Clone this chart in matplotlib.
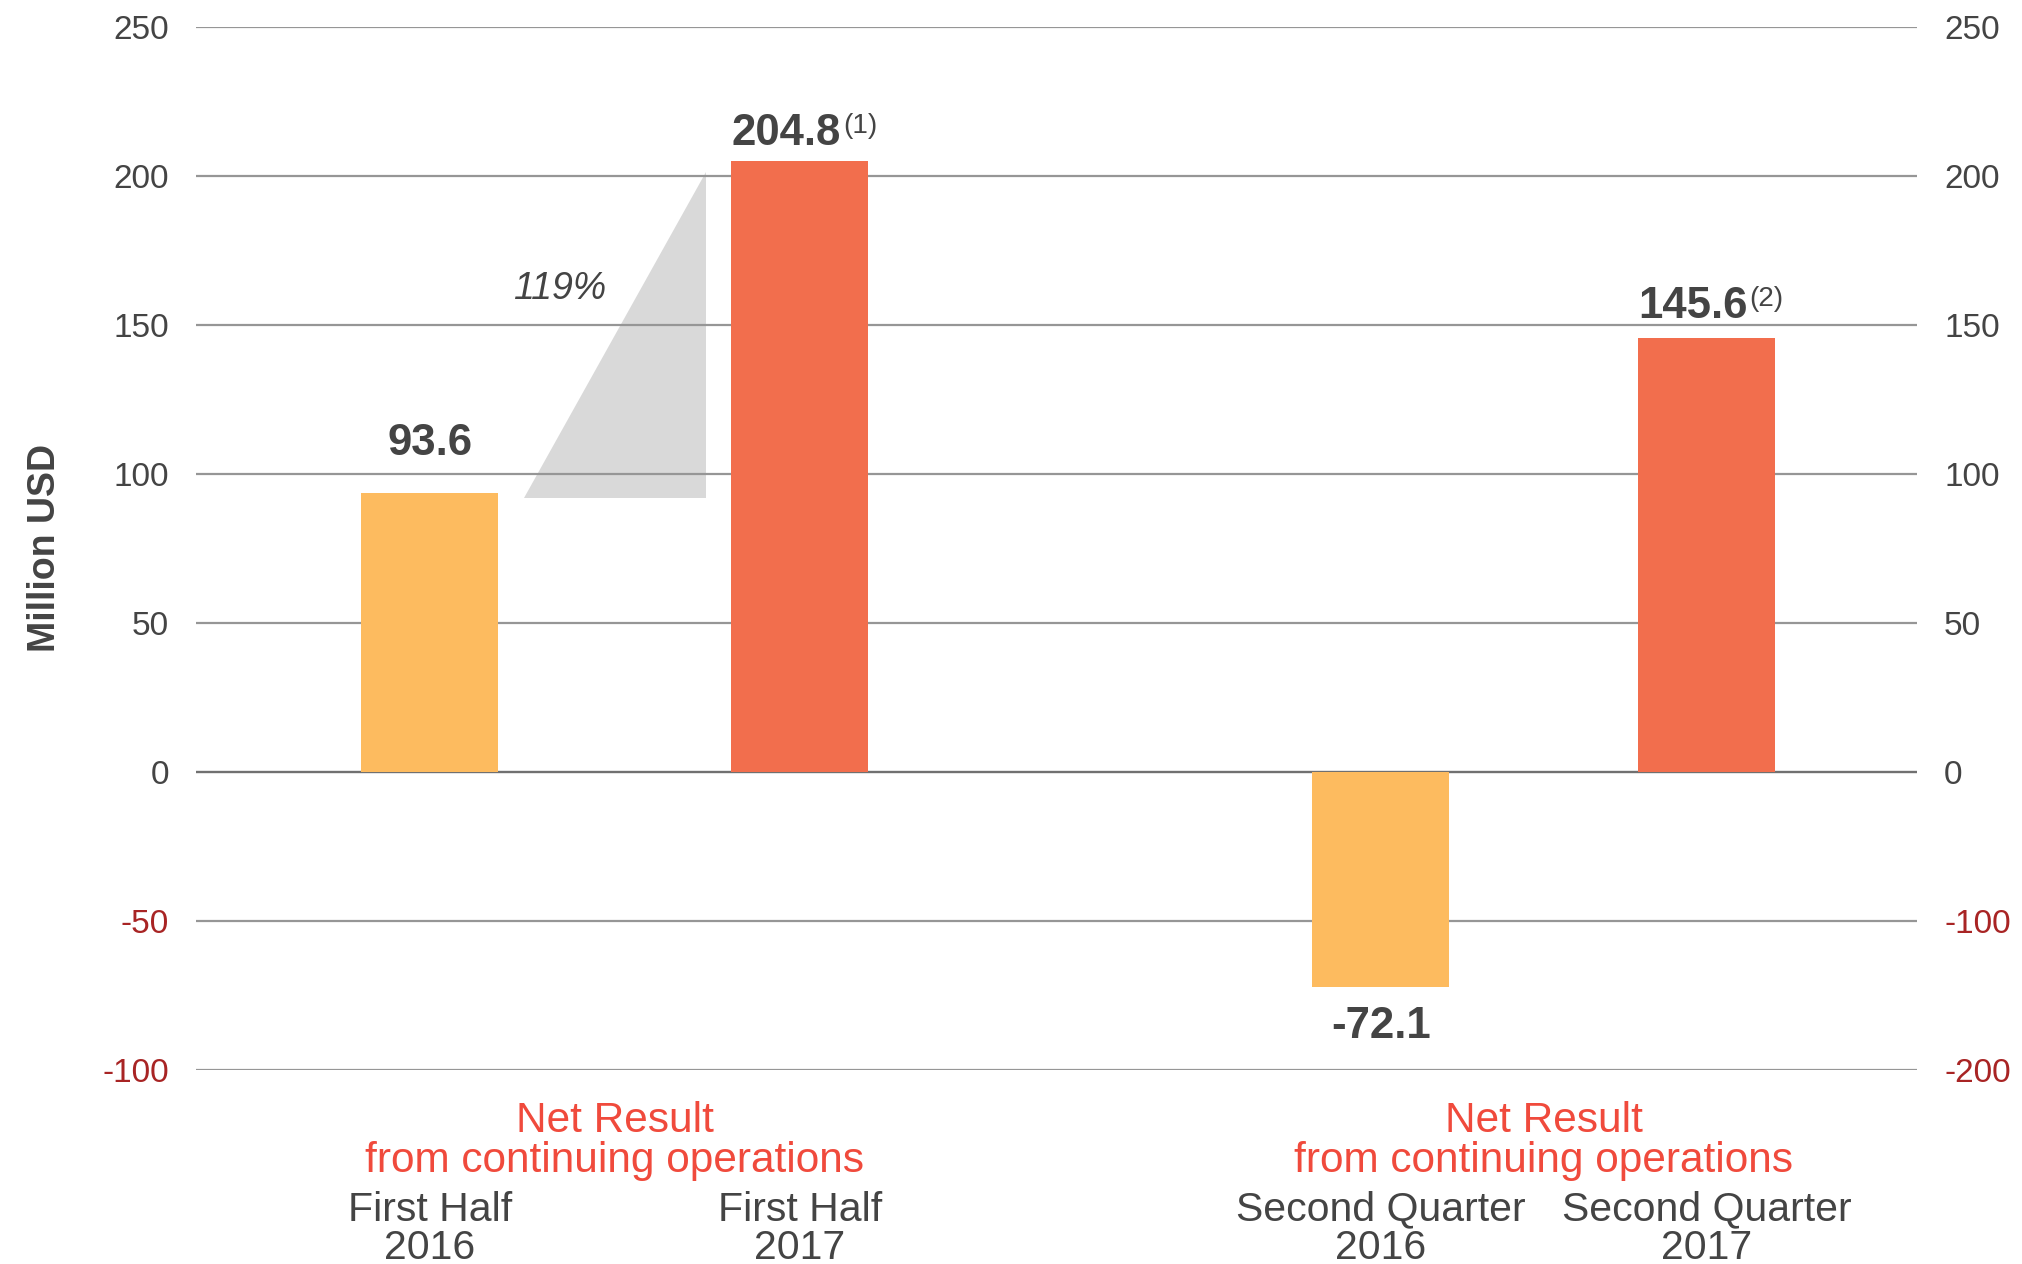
import numpy as np
import matplotlib.pyplot as plt

periods = ['First Half\n2016', 'First Half\n2017', 'Second Quarter\n2016', 'Second Quarter\n2017']
net_result = [93.6, 204.8, -72.1, 145.6]
footnotes = ['', '(1)', '', '(2)']
group_title = ['Net Result', 'from continuing operations']
growth_label = '119%'
left_ticks = [250, 200, 150, 100, 50, 0, -50, -100]
right_labels = ['250', '200', '150', '100', '50', '0', '-100', '-200']

plt.rcParams['font.family'] = ['Liberation Sans', 'DejaVu Sans']

dark = '#444444'
neg_red = '#a82424'
title_red = '#f04a3c'
bar_colors = ['#fdbb5f', '#f26e4d', '#fdbb5f', '#f26e4d']

W, H = 2022, 1264
fig = plt.figure(figsize=(W / 100, H / 100), dpi=100)
ax = fig.add_axes([196 / W, 1 - 1070 / H, 1721 / W, (1070 - 26.7) / H])

xpos = np.array([0, 1, 2.57, 3.45])
width = 0.37
ax.bar(xpos, net_result, width=width, color=bar_colors, zorder=3)
ax.set_xlim(-0.632, 4.019)
ax.set_ylim(-100, 250)

# grid behind everything
ax.set_axisbelow(True)
ax.set_yticks(left_ticks, labels=[str(t) for t in left_ticks])
ax.yaxis.grid(True, color='#969696', linewidth=1.6)
ax.axhline(0, color='#707070', linewidth=1.6, zorder=1)
for s in ax.spines.values():
    s.set_visible(False)
ax.tick_params(axis='y', length=0, pad=19.5, labelsize=24, labelcolor=dark)
ax.set_xticks([])
for lab, t in zip(ax.get_yticklabels(), left_ticks):
    if t < 0:
        lab.set_color(neg_red)

ax2 = ax.twinx()
ax2.set_ylim(ax.get_ylim())
ax2.set_yticks(left_ticks, labels=right_labels)
ax2.tick_params(axis='y', length=0, pad=19.5, labelsize=24, labelcolor=dark)
for s in ax2.spines.values():
    s.set_visible(False)
for lab, t in zip(ax2.get_yticklabels(), right_labels):
    if t.startswith('-'):
        lab.set_color(neg_red)

ax.set_ylabel('Million USD', fontsize=27, color=dark, fontweight='bold')
ax.yaxis.set_label_coords(-0.0773, 0.5)

# growth wedge between the two first-half bars
x_left = xpos[0] + width / 2 + 0.07
x_right = xpos[1] - width / 2 - 0.07
y_bottom = net_result[0] - 1.7
y_top = net_result[1] - 3.5
ax.fill([x_left, x_right, x_right], [y_bottom, y_bottom, y_top],
        color='#d9d9d9', lw=0, zorder=0.3)
ax.text(x_left + 0.095, y_bottom + 0.64 * (y_top - y_bottom), growth_label,
        fontsize=27, style='italic', color=dark, ha='center', va='center')

# value labels
label_gap = [27, 12, 14, 14]
for x, v, fn, gap in zip(xpos, net_result, footnotes, label_gap):
    shift = -10 if fn else 0
    if v >= 0:
        txt = ax.annotate(f'{v:.1f}', xy=(x, v), xytext=(shift, gap),
                          textcoords='offset points', ha='center', va='baseline',
                          fontsize=31.5, fontweight='bold', color=dark)
    else:
        txt = ax.annotate(f'{v:.1f}', xy=(x, v), xytext=(shift, -gap),
                          textcoords='offset points', ha='center', va='top',
                          fontsize=31.5, fontweight='bold', color=dark)
    if fn:
        ax.annotate(fn, xy=(1, 1.0), xycoords=txt, xytext=(1.5, 0),
                    textcoords='offset points', ha='left', va='top',
                    fontsize=20, color=dark)

# category labels under each bar
for x, p in zip(xpos, periods):
    top, bottom = p.split('\n')
    ax.annotate(top, xy=(x, 0), xycoords=('data', 'axes fraction'),
                xytext=(0, -108.5), textcoords='offset points',
                ha='center', va='baseline', fontsize=29.5, color=dark)
    ax.annotate(bottom, xy=(x, 0), xycoords=('data', 'axes fraction'),
                xytext=(0, -136), textcoords='offset points',
                ha='center', va='baseline', fontsize=29.5, color=dark)

# red group titles centred on each pair
for i in (0, 2):
    cx = (xpos[i] + xpos[i + 1]) / 2
    for line, off in zip(group_title, (-45, -73.5)):
        ax.annotate(line, xy=(cx, 0), xycoords=('data', 'axes fraction'),
                    xytext=(0, off), textcoords='offset points',
                    ha='center', va='baseline', fontsize=30.5, color=title_red)

fig.savefig('out.png', dpi=100)
